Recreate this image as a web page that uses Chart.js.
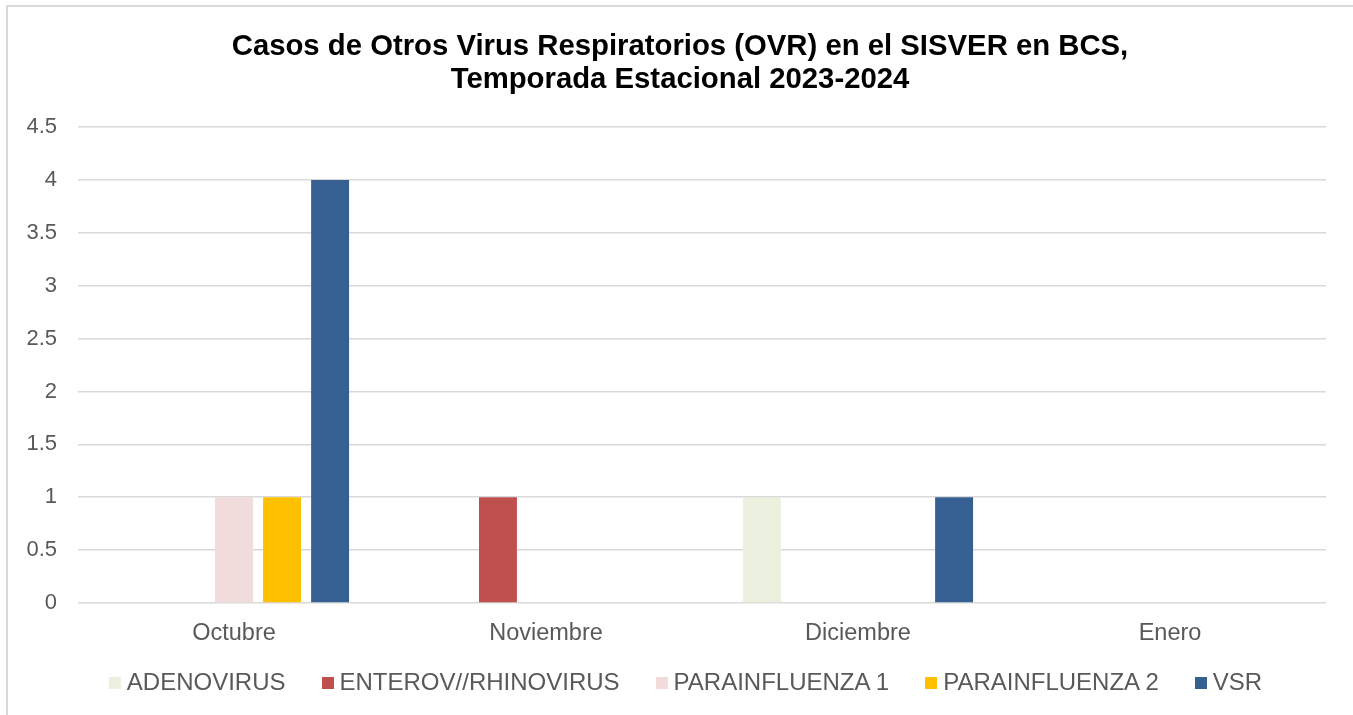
<!DOCTYPE html>
<html>
<head>
<meta charset="utf-8">
<script src="https://cdn.jsdelivr.net/npm/chart.js@4.4.1/dist/chart.umd.min.js"></script>
<style>
  html, body { margin: 0; padding: 0; background: #fff; overflow: hidden; }
  #wrap { position: relative; width: 1353px; height: 715px; }
  #frame { position: absolute; left: 6px; top: 5px; width: 1400px; height: 800px;
           border: 2px solid #d9d9d9; pointer-events: none; }
  canvas { position: absolute; left: 0; top: 0; }
  #title { position: absolute; left: 0; width: 1360px; top: 28px; text-align: center;
           font-family: 'Liberation Sans', Arial, sans-serif; font-weight: bold;
           font-size: 29.3px; line-height: 33.4px; color: #000; }
  #legend { position: absolute; left: 9px; width: 1353px; top: 667px; height: 30px;
            display: flex; justify-content: center; align-items: center;
            font-family: 'Liberation Sans', Arial, sans-serif;
            font-size: 24px; color: #595959; }
  #legend .item { display: flex; align-items: center; margin: 0 18px; }
  #legend .box { width: 12px; height: 12px; margin-right: 6px; margin-top: 2px; }
</style>
</head>
<body>
<div id="wrap">
  <canvas id="chart" width="1353" height="715"></canvas>
  <div id="title"></div>
  <div id="legend"></div>
  <div id="frame"></div>
</div>
<script>
const titleLines = ["Casos de Otros Virus Respiratorios (OVR) en el SISVER en BCS,", "Temporada Estacional 2023-2024"];
const months = ["Octubre", "Noviembre", "Diciembre", "Enero"];
const seriesNames = ["ADENOVIRUS", "ENTEROV//RHINOVIRUS", "PARAINFLUENZA 1", "PARAINFLUENZA 2", "VSR"];
const adenovirus = [0, 0, 1, 0];
const enterovRhino = [0, 1, 0, 0];
const parainfluenza1 = [1, 0, 0, 0];
const parainfluenza2 = [1, 0, 0, 0];
const vsr = [4, 0, 1, 0];

const colors = ["#ebf1de", "#c0504d", "#f2dcdb", "#ffc000", "#376092"];
const FONT = "'Liberation Sans', Arial, sans-serif";
const GRID = "#d9d9d9";
const TEXT = "#595959";

const values = [adenovirus, enterovRhino, parainfluenza1, parainfluenza2, vsr];
const datasets = seriesNames.map((name, i) => ({
  label: name,
  data: values[i],
  backgroundColor: colors[i],
  borderWidth: 0,
  categoryPercentage: 0.77,
  barPercentage: 0.79,
}));

// title as html so it can centre on the whole frame, not the padded chart box
document.getElementById("title").innerHTML = titleLines.join("<br>");

// html legend (excel-style spacing)
const legendEl = document.getElementById("legend");
seriesNames.forEach((name, i) => {
  const item = document.createElement("div");
  item.className = "item";
  item.innerHTML = `<span class="box" style="background:${colors[i]}"></span><span>${name}</span>`;
  legendEl.appendChild(item);
});

new Chart(document.getElementById("chart"), {
  type: "bar",
  data: { labels: months, datasets },
  options: {
    responsive: false,
    animation: false,
    layout: { padding: { left: 10, right: 27, top: 127, bottom: 56 } },
    plugins: {
      title: { display: false },
      legend: { display: false },
      tooltip: { enabled: false },
    },
    scales: {
      x: {
        grid: { display: false },
        border: { display: false },
        ticks: { color: TEXT, font: { family: FONT, size: 23.5 }, padding: 8 },
        afterFit: (s) => { s.height = 56; },
      },
      y: {
        min: 0, max: 4.5,
        ticks: {
          stepSize: 0.5, color: TEXT, font: { family: FONT, size: 22 }, padding: 21,
          callback: (v) => String(v),
        },
        grid: { color: GRID, lineWidth: 1.5, drawTicks: false },
        border: { display: false },
        afterFit: (s) => { s.width = 68; },
      },
    },
  },
});
</script>
</body>
</html>
